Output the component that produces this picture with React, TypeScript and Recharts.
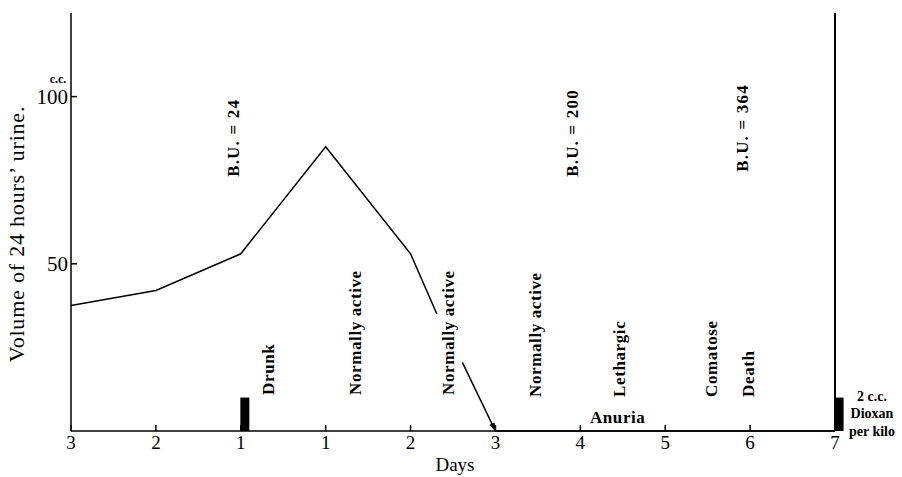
import {
  ComposedChart,
  Line,
  Bar,
  XAxis,
  YAxis,
  ReferenceLine,
  ReferenceDot,
} from 'recharts'

// x positions are slots on the day axis (0..9), fractional where the curve bends
const X_POS = [0, 1, 2, 3, 4, 4.31, 4.45, 4.61, 5, 6, 7, 8, 9]
const VOLUME = [37.5, 42, 53, 85, 53, 35, null, 20.5, 0, 0, 0, 0, 0]
const DOSE = [null, null, 10, null, null, null, null, null, null, null, null, null, 10]

const X_TICKS = [0, 1, 2, 3, 4, 5, 6, 7, 8, 9]
const X_LABELS = ['3', '2', '1', '1', '2', '3', '4', '5', '6', '7']
const Y_TICKS = [50, 100]

const STATE_TEXT = ['Drunk', 'Normally active', 'Normally active', 'Normally active', 'Lethargic', 'Comatose', 'Death']
const STATE_X = [2.32, 3.35, 4.44, 5.47, 6.45, 7.54, 7.97]
const STATE_Y = [10.8, 10.8, 10.8, 10.2, 10.2, 10.2, 10.2]

const BU_TEXT = ['B.U. = 24', 'B.U. = 200', 'B.U. = 364']
const BU_X = [1.91, 5.9, 7.9]
const BU_Y = [76, 76, 77.5]

const DATA = X_POS.map((x, i) => ({ x, volume: VOLUME[i], dose: DOSE[i] }))
const ARROW_INDEX = VOLUME.indexOf(0)

const FONT = '"Liberation Serif", "DejaVu Serif", serif'

const XTick = ({ x, y, payload }: any) => (
  <g>
    <line x1={x} y1={y} x2={x} y2={y - 6} stroke="#000" strokeWidth={1.5} />
    <text x={x} y={y + 18} textAnchor="middle" fontSize={19} fontFamily={FONT} fill="#000">
      {X_LABELS[X_TICKS.indexOf(payload.value)]}
    </text>
  </g>
)

const YTick = ({ x, y, payload }: any) => (
  <g>
    <line x1={x} y1={y} x2={x + 6} y2={y} stroke="#000" strokeWidth={1.5} />
    <text x={x - 3} y={y} dy={7} textAnchor="end" fontSize={21} fontFamily={FONT} fill="#000">
      {payload.value}
    </text>
    {payload.value === 100 && (
      <text x={x - 13} y={y - 14} textAnchor="middle" fontSize={12} fontWeight="bold" fontFamily={FONT} fill="#000">
        c.c.
      </text>
    )}
  </g>
)

const VText = (text: string, spacing: number) => ({ cx, cy }: any) => (
  <text
    x={cx}
    y={cy}
    transform={`rotate(-90, ${cx}, ${cy})`}
    dy={6}
    fontSize={17}
    fontWeight="bold"
    letterSpacing={spacing}
    fontFamily={FONT}
    fill="#000"
  >
    {text}
  </text>
)

const Anuria = ({ cx, cy }: any) => (
  <text x={cx} y={cy} textAnchor="middle" fontSize={17} fontWeight="bold" letterSpacing={0.6} fontFamily={FONT} fill="#000">
    Anuria
  </text>
)

const DoseNote = ({ cx, cy }: any) => (
  <text textAnchor="middle" fontSize={14} fontWeight="bold" fontFamily={FONT} fill="#000">
    <tspan x={cx + 37} y={cy - 30}>2 c.c.</tspan>
    <tspan x={cx + 37} y={cy - 13}>Dioxan</tspan>
    <tspan x={cx + 37} y={cy + 5}>per kilo</tspan>
  </text>
)

const DoseBar = ({ x, y, width, height }: any) =>
  height > 0 ? <rect x={x + width / 2} y={y} width={width} height={height} fill="#000" /> : <g />

const ArrowDot = (props: any) => {
  const { cx, cy, index } = props
  if (index !== ARROW_INDEX || cx == null) return <g key={`d${index}`} />
  const a = (64 * Math.PI) / 180
  const dx = Math.cos(a)
  const dy = Math.sin(a)
  const bx = cx - 8 * dx
  const by = cy - 8 * dy
  const pts = `${cx},${cy} ${bx - 3 * dy},${by + 3 * dx} ${bx + 3 * dy},${by - 3 * dx}`
  return <polygon key={`d${index}`} points={pts} fill="#000" />
}

const YLabel = ({ viewBox }: any) => {
  const x = viewBox.x + 17
  const y = viewBox.y + viewBox.height / 2 + 12
  return (
    <text
      x={x}
      y={y}
      transform={`rotate(-90, ${x}, ${y})`}
      dy={7}
      textAnchor="middle"
      fontSize={22}
      letterSpacing={0.8}
      fontFamily={FONT}
      fill="#000"
    >
      Volume of 24 hours’ urine.
    </text>
  )
}

const XLabel = ({ viewBox }: any) => (
  <text x={viewBox.x + viewBox.width / 2 + 2} y={viewBox.y + 40} textAnchor="middle" fontSize={19} fontFamily={FONT} fill="#000">
    Days
  </text>
)

export default function App() {
  return (
    <div style={{ position: 'absolute', left: 0, top: 0, background: '#fff', fontFamily: FONT }}>
      <ComposedChart width={902} height={477} data={DATA} margin={{ top: 13, right: 67, left: 0, bottom: 0 }}>
        <XAxis
          dataKey="x"
          type="number"
          domain={[0, 9]}
          ticks={X_TICKS}
          tick={<XTick />}
          tickSize={0}
          tickMargin={0}
          tickLine={false}
          axisLine={{ stroke: '#000', strokeWidth: 1.5 }}
          height={46}
          label={{ content: XLabel }}
        />
        <YAxis
          type="number"
          domain={[0, 125]}
          ticks={Y_TICKS}
          tick={<YTick />}
          tickSize={0}
          tickMargin={0}
          tickLine={false}
          axisLine={{ stroke: '#000', strokeWidth: 1.5 }}
          width={71}
          label={{ content: YLabel }}
        />
        <ReferenceLine x={9} stroke="#000" strokeWidth={2} />
        <Bar dataKey="dose" barSize={9} shape={DoseBar} isAnimationActive={false} />
        <Line
          dataKey="volume"
          type="linear"
          stroke="#000"
          strokeWidth={1.5}
          dot={ArrowDot}
          activeDot={false}
          connectNulls={false}
          isAnimationActive={false}
        />
        {STATE_TEXT.map((t, i) => (
          <ReferenceDot key={`s${i}`} x={STATE_X[i]} y={STATE_Y[i]} r={1} shape={VText(t, 0.6)} />
        ))}
        {BU_TEXT.map((t, i) => (
          <ReferenceDot key={`b${i}`} x={BU_X[i]} y={BU_Y[i]} r={1} shape={VText(t, 1.2)} />
        ))}
        <ReferenceDot x={6.44} y={2.4} r={1} shape={Anuria} />
        <ReferenceDot x={9} y={0} r={1} shape={DoseNote} />
      </ComposedChart>
    </div>
  )
}
